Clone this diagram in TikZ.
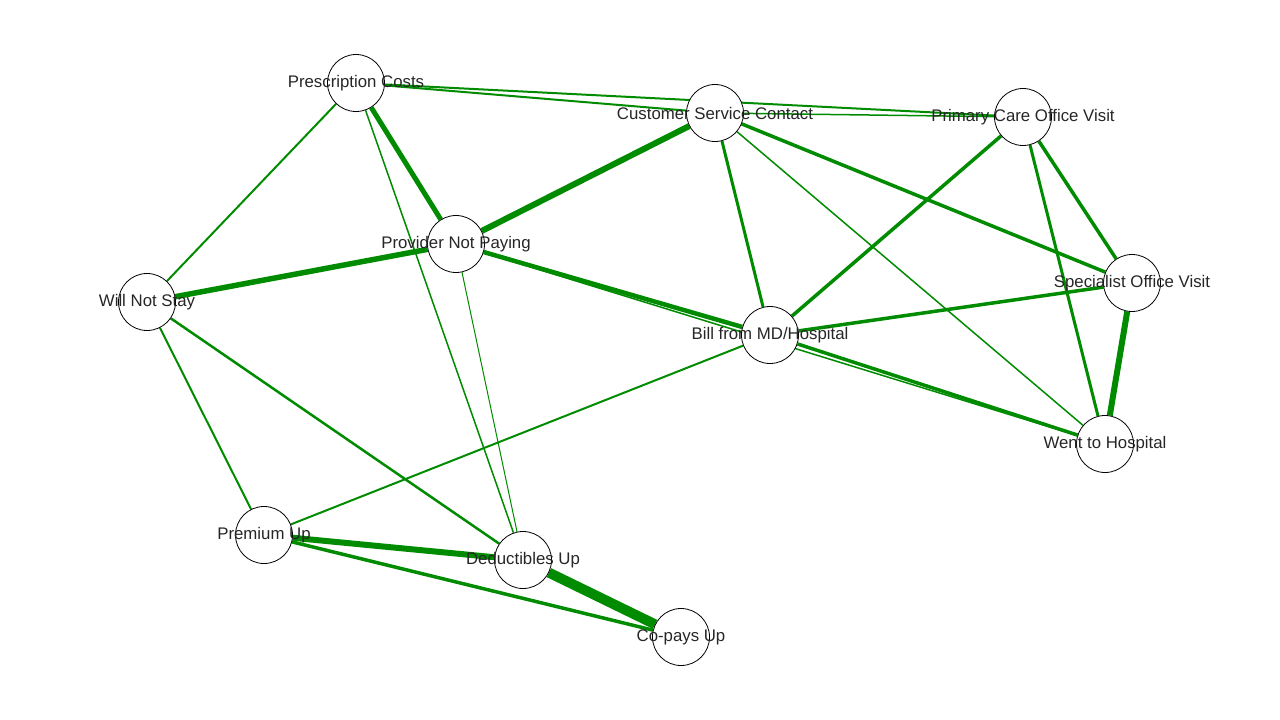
\documentclass[tikz,border=0pt]{standalone}
\usepackage{fontspec}
\newfontfamily\netfont{Liberation Sans}
\pgfdeclarelayer{bg}
\pgfsetlayers{bg,main}
\definecolor{linkgreen}{RGB}{0,139,0}
\begin{document}
\begin{tikzpicture}[x=1pt,y=-1pt,vtx/.style={circle,draw=black,fill=white,line width=0.8pt,minimum size=57pt,inner sep=0pt},txt/.style={font=\netfont\fontsize{16.8}{18}\selectfont,text=black!85,inner sep=0pt},lnk/.style={draw=linkgreen}]
\useasboundingbox (0,0) rectangle (1280,720);
\node[vtx,label={[txt]center:Prescription Costs}] (pc) at (356,83) {};
\node[vtx,label={[txt]center:Customer Service Contact}] (csc) at (715,113) {};
\node[vtx,label={[txt]center:Primary Care Office Visit}] (pco) at (1023,117) {};
\node[vtx,label={[txt]center:Provider Not Paying}] (pnp) at (456,244) {};
\node[vtx,label={[txt]center:Will Not Stay}] (wns) at (147,302) {};
\node[vtx,label={[txt]center:Specialist Office Visit}] (sov) at (1132,283) {};
\node[vtx,label={[txt]center:Bill from MD/Hospital}] (bmh) at (770,335) {};
\node[vtx,label={[txt]center:Went to Hospital}] (wth) at (1105,444) {};
\node[vtx,label={[txt]center:Premium Up}] (pu) at (264,535) {};
\node[vtx,label={[txt]center:Deductibles Up}] (du) at (523,560) {};
\node[vtx,label={[txt]center:Co-pays Up}] (cpu) at (681,637) {};
\begin{pgfonlayer}{bg}
% Prescription Costs
\draw[lnk,line width=2pt] (pc)--(pco);
\draw[lnk,line width=2pt] (pc)--(csc);
\draw[lnk,line width=2pt] (pc)--(wns);
\draw[lnk,line width=5pt] (pc)--(pnp);
\draw[lnk,line width=1.5pt] (pc)--(du);
% Customer Service Contact
\draw[lnk,line width=6pt] (csc)--(pnp);
\draw[lnk,line width=1.5pt] (csc)--(pco);
\draw[lnk,line width=3pt] (csc)--(bmh);
\draw[lnk,line width=1.5pt] (csc)--(wth);
\draw[lnk,line width=3.5pt] (csc)--(sov);
% Primary Care Office Visit
\draw[lnk,line width=3.5pt] (pco)--(bmh);
\draw[lnk,line width=3.5pt] (pco)--(sov);
\draw[lnk,line width=3pt] (pco)--(wth);
% Provider Not Paying
\draw[lnk,line width=1pt] (pnp)--(du);
\draw[lnk,line width=5.5pt] (pnp)--(wns);
\draw[lnk,line width=4.5pt] (pnp)--(bmh);
\draw[lnk,line width=1.5pt] (pnp)--(wth);
% Bill from MD/Hospital
\draw[lnk,line width=3.5pt] (bmh)--(wth);
\draw[lnk,line width=3.5pt] (bmh)--(sov);
\draw[lnk,line width=2pt] (bmh)--(pu);
% Will Not Stay
\draw[lnk,line width=2pt] (wns)--(pu);
\draw[lnk,line width=2.5pt] (wns)--(du);
% Specialist Office Visit
\draw[lnk,line width=6pt] (sov)--(wth);
% Premium Up, Deductibles Up
\draw[lnk,line width=6pt] (pu)--(du);
\draw[lnk,line width=3.5pt] (pu)--(cpu);
\draw[lnk,line width=10pt] (du)--(cpu);
\end{pgfonlayer}
\end{tikzpicture}
\end{document}
